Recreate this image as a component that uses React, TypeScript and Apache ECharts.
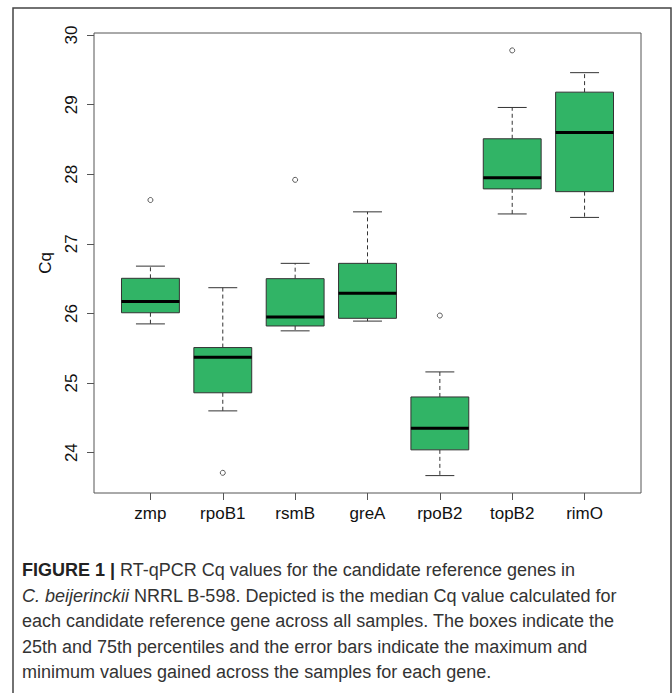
import React, { useEffect, useRef } from "react";
import * as echarts from "echarts";

const genes = ["zmp", "rpoB1", "rsmB", "greA", "rpoB2", "topB2", "rimO"];
const whiskerLow = [25.85, 24.6, 25.75, 25.89, 23.67, 27.43, 27.38];
const q1 = [26.01, 24.86, 25.82, 25.93, 24.04, 27.79, 27.75];
const median = [26.17, 25.37, 25.95, 26.29, 24.35, 27.95, 28.6];
const q3 = [26.505, 25.51, 26.5, 26.72, 24.8, 28.51, 29.18];
const whiskerHigh = [26.68, 26.37, 26.72, 27.46, 25.16, 28.96, 29.46];
const outlierGenes = ["zmp", "rpoB1", "rsmB", "rpoB2", "topB2"];
const outlierValues = [27.63, 23.71, 27.92, 25.97, 29.78];
const yTicks = [24, 25, 26, 27, 28, 29, 30];

const captionLines = [
  "{b|FIGURE 1 |} RT-qPCR Cq values for the candidate reference genes in",
  "{i|C. beijerinckii} NRRL B-598. Depicted is the median Cq value calculated for",
  "each candidate reference gene across all samples. The boxes indicate the",
  "25th and 75th percentiles and the error bars indicate the maximum and",
  "minimum values gained across the samples for each gene.",
];

const FONT = "'Liberation Sans', Arial, sans-serif";

export default function App() {
  const ref = useRef<HTMLDivElement>(null);
  useEffect(() => {
    if (!ref.current) return;
    const chart = echarts.init(ref.current, undefined, { renderer: "svg" });
    const boxData = genes.map((g, i) => [i + 1, whiskerLow[i], q1[i], median[i], q3[i], whiskerHigh[i]]);
    const outData = outlierGenes.map((g, i) => [genes.indexOf(g) + 1, outlierValues[i]]);
    const xPositions = genes.map((g, i) => i + 1);

    const option: any = {
      animation: false,
      backgroundColor: "#ffffff",
      grid: {
        left: 94,
        top: 33,
        width: 547,
        height: 460,
        show: true,
        borderColor: "#555",
        borderWidth: 1,
        backgroundColor: "transparent",
      },
      xAxis: {
        type: "value",
        min: 0.22,
        max: 7.78,
        axisLine: { show: false },
        splitLine: { show: false },
        axisTick: {
          show: true,
          customValues: xPositions,
          length: 7,
          lineStyle: { color: "#555", width: 1 },
        },
        axisLabel: {
          customValues: xPositions,
          formatter: (v: number) => genes[Math.round(v) - 1] ?? "",
          fontSize: 17,
          fontFamily: FONT,
          color: "#111",
          margin: 12,
        },
      },
      yAxis: {
        type: "value",
        min: 23.42,
        max: 30.03,
        name: "Cq",
        nameLocation: "middle",
        nameRotate: 90,
        nameGap: 40,
        nameTextStyle: { fontSize: 17, fontFamily: FONT, color: "#111" },
        axisLine: { show: false },
        splitLine: { show: false },
        axisTick: {
          show: true,
          customValues: yTicks,
          length: 7,
          lineStyle: { color: "#555", width: 1 },
        },
        axisLabel: {
          customValues: yTicks,
          rotate: 90,
          fontSize: 17,
          fontFamily: FONT,
          color: "#111",
          margin: 14,
        },
      },
      series: [
        {
          type: "custom",
          data: boxData,
          encode: { x: 0, y: [1, 2, 3, 4, 5] },
          renderItem: (params: any, api: any) => {
            const x = api.value(0);
            const pLow = api.coord([x, api.value(1)]);
            const pQ1 = api.coord([x, api.value(2)]);
            const pMed = api.coord([x, api.value(3)]);
            const pQ3 = api.coord([x, api.value(4)]);
            const pHigh = api.coord([x, api.value(5)]);
            const bw = api.size([0.8, 0])[0];
            const cw = bw / 2;
            const cx = pMed[0];
            const dashStyle = { stroke: "#333", lineWidth: 1, lineDash: [4, 3] };
            const solid = { stroke: "#333", lineWidth: 1 };
            return {
              type: "group",
              children: [
                { type: "line", shape: { x1: cx, y1: pQ3[1], x2: cx, y2: pHigh[1] }, style: dashStyle },
                { type: "line", shape: { x1: cx, y1: pQ1[1], x2: cx, y2: pLow[1] }, style: dashStyle },
                { type: "line", shape: { x1: cx - cw / 2, y1: pHigh[1], x2: cx + cw / 2, y2: pHigh[1] }, style: solid },
                { type: "line", shape: { x1: cx - cw / 2, y1: pLow[1], x2: cx + cw / 2, y2: pLow[1] }, style: solid },
                {
                  type: "rect",
                  shape: { x: cx - bw / 2, y: pQ3[1], width: bw, height: pQ1[1] - pQ3[1] },
                  style: { fill: "#31b466", stroke: "#333", lineWidth: 1 },
                },
                {
                  type: "line",
                  shape: { x1: cx - bw / 2, y1: pMed[1], x2: cx + bw / 2, y2: pMed[1] },
                  style: { stroke: "#000", lineWidth: 3 },
                },
              ],
            };
          },
        },
        {
          type: "scatter",
          data: outData,
          symbol: "circle",
          symbolSize: 5,
          itemStyle: { color: "#fff", borderColor: "#333", borderWidth: 1 },
        },
      ],
      graphic: [
        {
          type: "rect",
          shape: { x: 13, y: 8, width: 658, height: 720 },
          style: { fill: "none", stroke: "#444", lineWidth: 1.5 },
          silent: true,
        },
        ...captionLines.map((t, i) => ({
          type: "text",
          x: 22,
          y: 570 + i * 25.5,
          style: {
            text: t,
            fontSize: 18,
            fontFamily: FONT,
            fill: "#333",
            verticalAlign: "middle",
            align: "left",
            rich: {
              b: { fontWeight: "bold", fontSize: 18, fontFamily: FONT, fill: "#222" },
              i: { fontStyle: "italic", fontSize: 18, fontFamily: FONT, fill: "#333" },
            },
          },
        })),
      ],
    };
    chart.setOption(option);
    return () => chart.dispose();
  }, []);
  return (
    <div
      ref={ref}
      style={{ position: "fixed", left: 0, top: 0, width: 672, height: 693, background: "#fff" }}
    />
  );
}
